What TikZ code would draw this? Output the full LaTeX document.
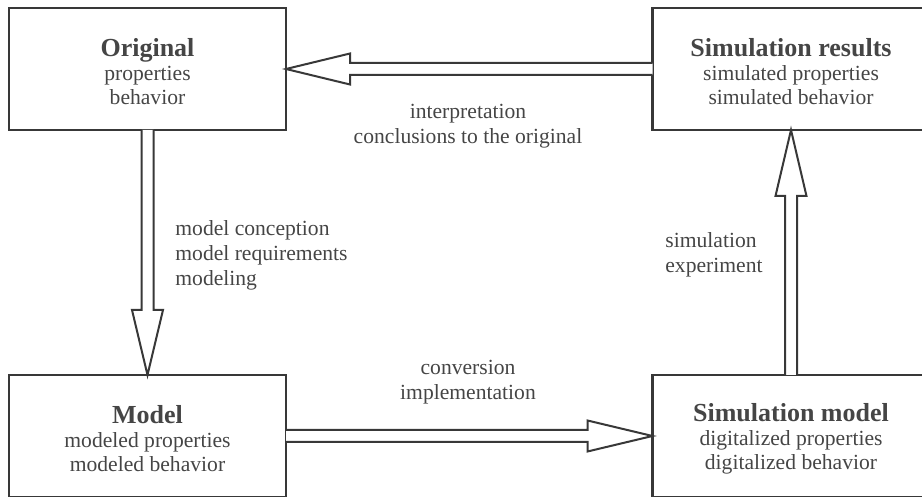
\documentclass[tikz,border=0pt]{standalone}
\usepackage{fontspec}
\setmainfont{Liberation Serif}
\usetikzlibrary{calc}
\definecolor{trait}{gray}{0.22}
\definecolor{texte}{gray}{0.27}
\newcommand{\titre}[1]{{\fontsize{13}{13}\selectfont\bfseries\rule{0pt}{12pt}#1}\\}
\tikzset{
  boite/.style={draw=trait, line width=1.25pt, minimum width=138.5pt, minimum height=61pt,
    inner sep=0pt, outer sep=0pt, align=center, text=texte, font=\fontsize{10.8}{12}\selectfont},
  cadre/.style={draw=trait, line width=1.25pt},
  creux/.style={draw=trait, line width=1pt, line join=miter, fill=white},
  legende/.style={text=texte, inner sep=0pt, font=\fontsize{10.8}{12.5}\selectfont}
}
\begin{document}
\begin{tikzpicture}[x=0.5pt, y=-0.5pt]
    \useasboundingbox (0,0) rectangle (922,497);
    \clip (0,0) rectangle (922,497);

    % Les quatre boîtes (celles de droite sortent du cadre)
    \node[boite] (orig) at (147.5,69) {\titre{Original}properties\\behavior};
    \node[boite, draw=none] (res) at (791,69) {\titre{Simulation results}simulated properties\\simulated behavior};
    \node[boite] (model) at (147.5,436) {\titre{Model}modeled properties\\modeled behavior};
    \node[boite, draw=none] (simmod) at (791,436) {\titre{Simulation model}digitalized properties\\digitalized behavior};
    \draw[cadre] (res.north west) rectangle ($(res.south east)+(40,0)$);
    \draw[cadre] (simmod.north west) rectangle ($(simmod.south east)+(40,0)$);

    % Flèche creuse : résultats -> original
    \draw[creux] ($(res.west)+(0,-6)$) -- ($(orig.east)+(64,-6)$) -- ++(0,-9.5)
      -- (orig.east) -- ($(orig.east)+(64,15.5)$) -- ++(0,-9.5) -- ($(res.west)+(0,6)$);

    % Flèche creuse : original -> modèle
    \draw[creux] ($(orig.south)+(-6,0)$) -- ($(model.north)+(-6,-65)$) -- ++(-9.5,0)
      -- (model.north) -- ($(model.north)+(15.5,-65)$) -- ++(-9.5,0) -- ($(orig.south)+(6,0)$);

    % Flèche creuse : modèle -> modèle de simulation
    \draw[creux] ($(model.east)+(0,-6)$) -- ($(simmod.west)+(-65,-6)$) -- ++(0,-9.5)
      -- (simmod.west) -- ($(simmod.west)+(-65,15.5)$) -- ++(0,-9.5) -- ($(model.east)+(0,6)$);

    % Flèche creuse : modèle de simulation -> résultats
    \draw[creux] ($(simmod.north)+(-6,0)$) -- ($(res.south)+(-6,66)$) -- ++(-9.5,0)
      -- (res.south) -- ($(res.south)+(15.5,66)$) -- ++(-9.5,0) -- ($(simmod.north)+(6,0)$);

    % Légendes des flèches
    \node[legende, align=center] (interp) at (468,126.5) {interpretation\\conclusions to the original};
    \node[legende, align=left, anchor=west] (concep) at (175,255) {model conception\\model requirements\\modeling};
    \node[legende, align=center] (conv) at (468,382.5) {conversion\\implementation};
    \node[legende, align=left, anchor=west] (exper) at (665,255) {simulation\\experiment};
\end{tikzpicture}
\end{document}
